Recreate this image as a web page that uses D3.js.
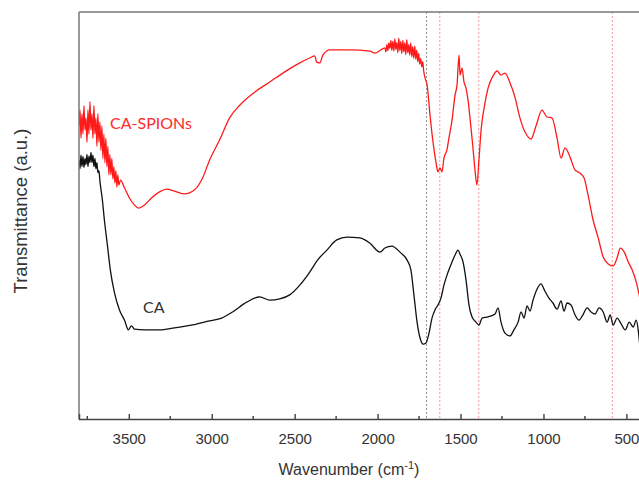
<!DOCTYPE html>
<html>
<head>
<meta charset="utf-8">
<script src="https://cdn.jsdelivr.net/npm/d3@7"></script>
<style>
  body { margin: 0; background: #fff; }
  svg { display: block; }
</style>
</head>
<body>
<div id="chart"></div>
<script>
// FTIR spectra (wavenumber in cm-1, transmittance in arbitrary units)
var spionWave = [3800,3794,3788,3782,3776,3770,3764,3758,3752,3746,3740,3734,3728,3722,3716,3710,3704,3698,3692,3686,3680,3674,3668,3662,3656,3650,3644,3638,3632,3626,3620,3614,3608,3602,3596,3590,3584,3578,3572,3566,3560,3550,3526,3496,3466,3441,3405,3363,3315,3272,3224,3164,3103,3055,3013,2952,2892,2831,2741,2650,2560,2469,2409,2379,2367,2348,2330,2288,2167,2046,2016,1956,1950,1944,1938,1932,1926,1920,1914,1908,1902,1896,1890,1884,1878,1872,1866,1860,1854,1848,1842,1836,1830,1824,1818,1812,1806,1800,1794,1788,1782,1776,1770,1764,1758,1752,1746,1740,1734,1728,1722,1714,1702,1684,1666,1648,1636,1624,1612,1600,1582,1570,1551,1533,1521,1509,1503,1491,1479,1467,1455,1443,1425,1413,1401,1389,1376,1358,1334,1304,1280,1256,1232,1202,1172,1142,1111,1075,1045,1009,979,949,918,894,870,840,810,779,755,731,701,670,640,610,580,556,537,513,489,465,441,423,405];
var spionT    = [72,76,69,75,70,77,71,74,68,76,70,78,71,75,69,77,70,74,67,75,68,73,66,72,64,70,63,69,62,67,60,65,60,64,59,62,58,61,57,60,57.5,58.7,56.8,54.3,52.6,51.8,52.6,54.3,55.8,56.5,56.0,55.3,56.3,59.2,63.6,68.6,74.0,77.1,80.3,82.8,85.3,87.5,88.7,89.2,87.7,87.5,89.4,90.7,90.7,90.4,89.9,91.2,90.2,92.0,90.5,92.4,91.0,93.0,90.6,92.8,90.4,93.4,90.8,92.5,90.0,93.6,90.5,92.8,89.8,93.0,90.2,92.4,89.5,93.2,90.0,92.0,89.4,92.4,89.0,91.5,88.6,91.6,88.4,90.6,87.8,89.8,87.2,88.6,86.5,87.8,85.5,83.8,82.2,74.7,68.1,63.1,60.7,61.7,60.7,64.1,66.1,69.0,73.5,79.6,82.1,89.4,84.5,86.2,82.8,81.3,78.4,74.0,66.6,61.2,57.5,63.6,71.0,76.4,81.3,84.3,85.5,84.5,85.0,82.6,79.1,74.0,70.5,68.8,72.0,75.9,74.2,74.0,69.0,64.1,66.6,64.4,61.2,60.4,59.2,55.0,48.9,44.5,39.8,38.1,37.6,39.6,42.0,41.0,38.6,36.6,33.7,30.5,26.8];

var caWave = [3800,3794,3788,3782,3776,3770,3764,3758,3752,3746,3740,3734,3728,3722,3716,3710,3704,3698,3692,3686,3680,3674,3659,3647,3629,3611,3586,3556,3526,3502,3484,3466,3405,3315,3224,3115,3013,2940,2874,2789,2711,2650,2590,2530,2469,2409,2361,2306,2246,2185,2107,2046,1986,1956,1914,1865,1823,1799,1781,1762,1744,1726,1708,1690,1672,1654,1636,1618,1600,1575,1551,1533,1515,1503,1485,1467,1449,1431,1407,1389,1370,1334,1292,1274,1256,1232,1202,1178,1153,1135,1117,1099,1081,1063,1039,1015,991,967,943,918,894,876,858,834,810,786,762,737,713,689,665,640,616,598,580,556,531,507,483,459,441,429,417];
var caT    = [63.6,61.5,64.8,62,64.5,61.8,64,62.5,65,62,64.6,63,65.5,63,64.8,62,64,61.5,63,60.5,61,58.5,53.8,48.9,42.8,36.6,31.0,26.8,24.3,21.9,22.9,22.1,21.9,21.9,22.4,23.1,24.1,24.8,26.3,28.7,30.0,29.2,29.5,30.5,32.9,36.1,39.1,41.5,44.0,44.7,44.5,43.2,41.0,42.0,42.5,41.0,39.1,36.6,30.5,23.8,19.9,18.4,18.7,21.1,24.8,26.8,28.0,29.7,32.9,36.1,38.6,40.3,41.5,40.5,38.6,34.2,28.0,25.1,23.8,23.1,24.8,25.1,25.8,27.3,23.8,21.1,20.4,21.9,23.8,26.3,24.8,27.8,26.5,29.2,31.9,33.2,31.4,29.7,28.5,27.0,29.0,26.5,28.5,28.0,25.6,24.3,25.6,27.3,26.3,25.8,27.3,26.3,23.8,25.6,23.1,24.8,23.3,21.9,23.8,22.6,24.3,21.9,17.0];

var majorTicks = [3500, 3000, 2500, 2000, 1500, 1000, 500];
var minorTicks = [3750, 3250, 2750, 2250, 1750, 1250, 750];
var grayLines  = [1705];
var redLines   = [1625, 1390, 585];

var W = 639, H = 482;
var margin = {top: 12, right: -4, bottom: 63, left: 79};
var width  = W - margin.left - margin.right;
var height = H - margin.top - margin.bottom;

var x = d3.scaleLinear().domain([3800, 400]).range([0, width]);
var y = d3.scaleLinear().domain([0, 100]).range([height, 0]);

var svg = d3.select("#chart").append("svg")
  .attr("width", W)
  .attr("height", H);

var g = svg.append("g")
  .attr("transform", "translate(" + margin.left + "," + margin.top + ")");

g.append("clipPath").attr("id", "clip")
  .append("rect").attr("width", width).attr("height", height);

// reference lines
g.selectAll(".gline").data(grayLines).enter().append("line")
  .attr("x1", function(d) { return x(d); })
  .attr("x2", function(d) { return x(d); })
  .attr("y1", 0).attr("y2", height)
  .attr("stroke", "#888").attr("stroke-width", 0.9)
  .attr("stroke-dasharray", "2,2");

g.selectAll(".rline").data(redLines).enter().append("line")
  .attr("x1", function(d) { return x(d); })
  .attr("x2", function(d) { return x(d); })
  .attr("y1", 0).attr("y2", height)
  .attr("stroke", "#f28a8a").attr("stroke-width", 0.9)
  .attr("stroke-dasharray", "2,2");

var line = d3.line()
  .x(function(d) { return x(d[0]); })
  .y(function(d) { return y(d[1]); })
  .curve(d3.curveMonotoneX);

var plot = g.append("g").attr("clip-path", "url(#clip)");

plot.append("path")
  .datum(d3.zip(caWave, caT))
  .attr("fill", "none")
  .attr("stroke", "#111")
  .attr("stroke-width", 1.3)
  .attr("d", line);

plot.append("path")
  .datum(d3.zip(spionWave, spionT))
  .attr("fill", "none")
  .attr("stroke", "#ff1a1a")
  .attr("stroke-width", 1.3)
  .attr("d", line);

// frame: left and top border
g.append("line").attr("x1", 0).attr("x2", 0).attr("y1", 0).attr("y2", height)
  .attr("stroke", "#777").attr("stroke-width", 1.5);
g.append("line").attr("x1", 0).attr("x2", width).attr("y1", 0).attr("y2", 0)
  .attr("stroke", "#777").attr("stroke-width", 1.5);

// bottom axis, ticks pointing inward
var xAxis = d3.axisBottom(x).tickValues(majorTicks).tickSize(-5).tickPadding(14)
  .tickFormat(d3.format("d"));
var ax = g.append("g")
  .attr("transform", "translate(0," + height + ")")
  .call(xAxis);
ax.select(".domain").attr("stroke", "#444").attr("stroke-width", 1.5);
ax.selectAll(".tick line").attr("stroke", "#333").attr("stroke-width", 1.3);
ax.selectAll(".tick text")
  .attr("font-family", "Liberation Sans, Arial, sans-serif")
  .attr("font-size", 15)
  .attr("fill", "#333");

g.append("g")
  .attr("transform", "translate(0," + height + ")")
  .selectAll("line").data(minorTicks).enter().append("line")
  .attr("x1", function(d) { return x(d); })
  .attr("x2", function(d) { return x(d); })
  .attr("y1", 0).attr("y2", -3)
  .attr("stroke", "#333").attr("stroke-width", 1.3);

// axis titles
var xt = svg.append("text")
  .attr("x", 349).attr("y", 475)
  .attr("text-anchor", "middle")
  .attr("font-family", "Liberation Sans, Arial, sans-serif")
  .attr("font-size", 16)
  .attr("fill", "#333");
xt.append("tspan").text("Wavenumber (cm");
xt.append("tspan").attr("dy", -6).attr("font-size", 11).text("-1");
xt.append("tspan").attr("dy", 6).text(")");

svg.append("text")
  .attr("transform", "translate(27,211) rotate(-90)")
  .attr("text-anchor", "middle")
  .attr("font-family", "Liberation Sans, Arial, sans-serif")
  .attr("font-size", 18.5)
  .attr("fill", "#333")
  .text("Transmittance (a.u.)");

// series labels
svg.append("text")
  .attr("x", 110).attr("y", 129)
  .attr("font-family", "Lato, Open Sans, sans-serif")
  .attr("font-size", 16)
  .attr("fill", "#ff2a2a")
  .text("CA-SPIONs");

svg.append("text")
  .attr("x", 143).attr("y", 313)
  .attr("font-family", "Lato, Open Sans, sans-serif")
  .attr("font-size", 16)
  .attr("fill", "#333")
  .text("CA");
</script>
</body>
</html>
